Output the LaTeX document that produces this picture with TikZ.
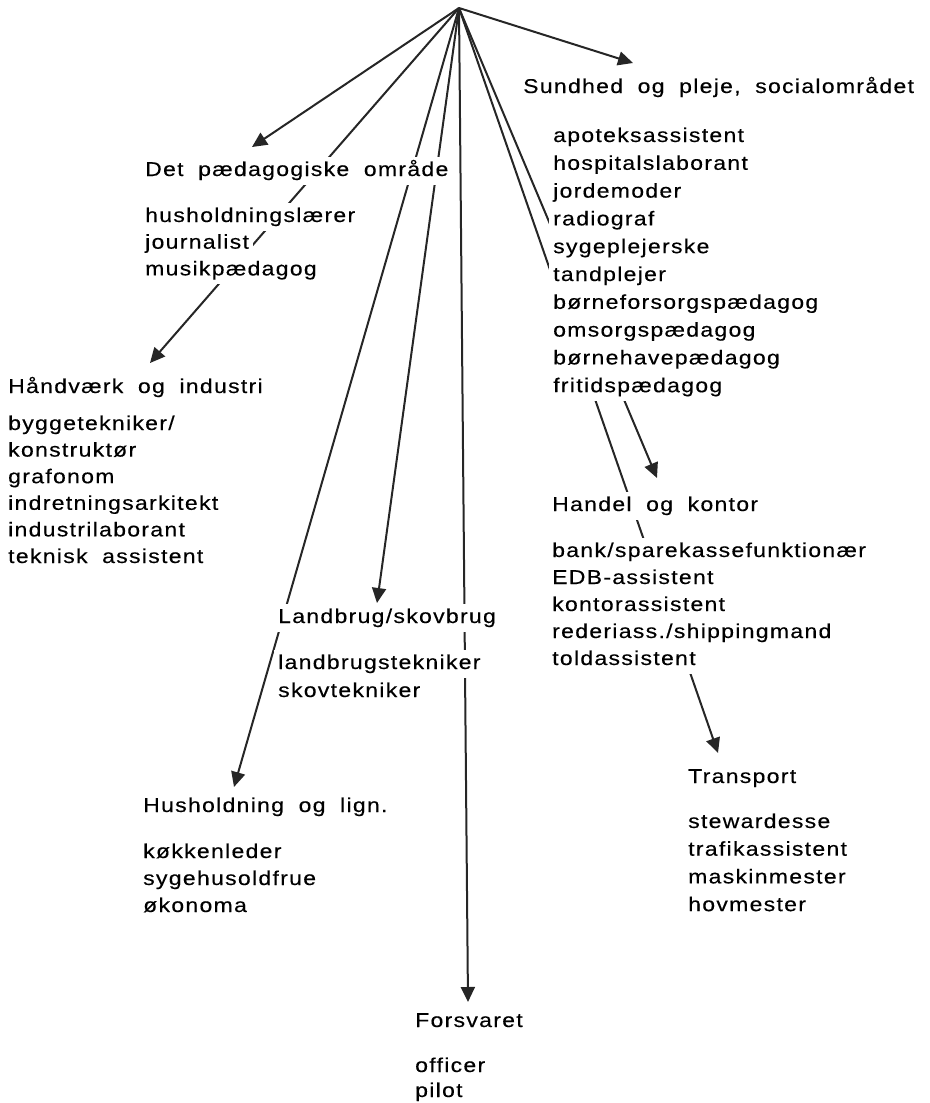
\documentclass[tikz,border=0pt]{standalone}
\usepackage{fontspec}
\setmainfont{Liberation Sans}[FakeStretch=1.15, LetterSpace=6.5, WordSpace=1.9, FakeBold=0.3]
\usetikzlibrary{arrows.meta}
\newcommand\rowfont{\fontsize{20}{27.8}\selectfont}
\begin{document}
\begin{tikzpicture}[x=1pt,y=-1pt,
  row/.style={anchor=base west, fill=white, inner xsep=4pt, inner ysep=0pt, text height=19pt, text depth=8.8pt, font=\rowfont},
  conn/.style={draw=black!85, line width=2pt, -{Triangle[length=15pt,width=14pt]}}]
\useasboundingbox (0,0) rectangle (929,1103);
% connector ends
\coordinate (apex) at (459,8);
\coordinate (tipDP) at (252,147);
\coordinate (tipSU) at (633,63);
\coordinate (tipHI) at (150,363);
\coordinate (tipLS) at (377,603);
\coordinate (tipHL) at (234,787);
\coordinate (tipFO) at (468,1002);
\coordinate (tipHK) at (657,478);
\coordinate (tipTR) at (718,753);
% connectors
\draw[conn] (apex) -- (tipDP);
\draw[conn] (apex) -- (tipSU);
\draw[conn] (apex) -- (tipHI);
\draw[conn] (apex) -- (tipLS);
\draw[conn] (apex) -- (tipHL);
\draw[conn] (apex) -- (tipFO);
\draw[conn] (apex) -- (tipHK);
\draw[conn] (apex) -- (tipTR);
% Det paedagogiske omraade
\node[row] (dp) at (141,176) {Det pædagogiske område};
\foreach \t [count=\i from 0] in {husholdningslærer,journalist,musikpædagog}
  \node[row] (dp-\i) at (141,{222+26.7*\i}) {\t};
% Haandvaerk og industri
\node[row] (hi) at (4,393) {Håndværk og industri};
\foreach \t [count=\i from 0] in {byggetekniker/,konstruktør,grafonom,indretningsarkitekt,industrilaborant,teknisk assistent}
  \node[row] (hi-\i) at (4,{430+26.6*\i}) {\t};
% Sundhed
\node[row] (su) at (519,93) {Sundhed og pleje, socialområdet};
\foreach \t [count=\i from 0] in {apoteksassistent,hospitalslaborant,jordemoder,radiograf,sygeplejerske,tandplejer,børneforsorgspædagog,omsorgspædagog,børnehavepædagog,fritidspædagog}
  \node[row] (su-\i) at (549,{142+27.8*\i}) {\t};
% Handel og kontor
\node[row] (hk) at (548,511) {Handel og kontor};
\foreach \t [count=\i from 0] in {bank/sparekassefunktionær,EDB-assistent,kontorassistent,rederiass./shippingmand,toldassistent}
  \node[row] (hk-\i) at (548,{557+27*\i}) {\t};
% Landbrug
\node[row] (ls) at (274,623) {Landbrug/skovbrug};
\foreach \t [count=\i from 0] in {landbrugstekniker,skovtekniker}
  \node[row] (ls-\i) at (274,{669+28*\i}) {\t};
% Husholdning
\node[row] (hl) at (139,812) {Husholdning og lign.};
\foreach \t [count=\i from 0] in {køkkenleder,sygehusoldfrue,økonoma}
  \node[row] (hl-\i) at (139,{858+27*\i}) {\t};
% Transport
\node[row] (tr) at (684,783) {Transport};
\foreach \t [count=\i from 0] in {stewardesse,trafikassistent,maskinmester,hovmester}
  \node[row] (tr-\i) at (684,{828+27.7*\i}) {\t};
% Forsvaret
\node[row] (fo) at (411,1027) {Forsvaret};
\foreach \t [count=\i from 0] in {officer,pilot}
  \node[row] (fo-\i) at (411,{1072+25*\i}) {\t};
\end{tikzpicture}
\end{document}
